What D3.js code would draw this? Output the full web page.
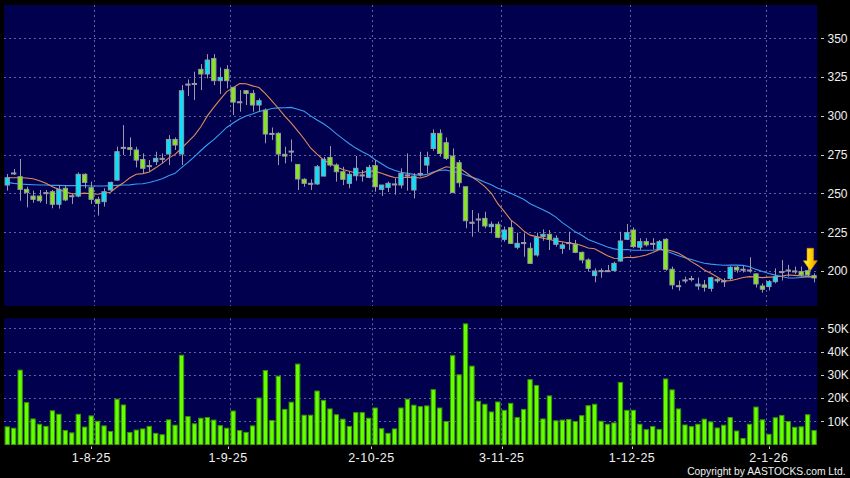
<!DOCTYPE html>
<html><head><meta charset="utf-8">
<script src="https://cdn.jsdelivr.net/npm/d3@7"></script>
<style>html,body{margin:0;padding:0;background:#000;overflow:hidden}svg{display:block}</style>
</head><body><div id="chart"></div>
<script>
// ---- data ----
const openP = [255.4,263.2,260.8,252.6,248.3,248.3,250.5,251.1,243.0,253.3,
248.5,248.3,262.3,253.7,246.2,244.7,252.2,258.6,279.7,279.5,
278.0,271.9,267.9,270.5,272.6,275.4,284.8,275.4,320.5,320.9,
330.0,327.0,337.0,322.7,330.0,318.4,309.1,316.2,314.5,307.0,
303.7,288.7,288.7,275.2,277.3,268.7,259.1,256.5,256.1,261.2,
273.2,268.3,264.0,256.5,261.4,261.9,260.4,267.9,252.6,253.9,
256.1,255.4,261.9,252.2,262.9,268.3,279.0,288.7,282.7,274.1,
269.8,254.3,231.4,233.5,233.9,228.6,230.1,220.4,227.9,215.3,
218.3,214.6,210.3,222.1,223.6,217.2,214.6,218.3,217.2,212.0,
207.1,197.0,200.2,200.2,200.2,206.4,220.4,226.4,215.3,218.9,
217.8,214.0,220.4,201.1,190.5,194.2,195.1,190.3,191.0,188.8,
194.6,193.6,195.1,202.4,201.1,200.6,198.1,190.3,189.9,193.1,
199.6,200.6,200.0,199.6,200.2,197.0];
const highP = [262.5,265.7,272.2,254.3,251.8,252.2,252.2,252.2,255.4,255.4,
250.1,263.5,263.0,257.6,247.9,253.3,257.6,280.1,294.1,286.1,
280.1,275.8,271.5,276.9,275.8,287.6,286.1,319.9,323.5,328.5,
333.4,339.8,339.8,331.2,332.7,318.4,316.6,316.6,316.6,311.3,
304.8,292.5,289.5,280.1,284.8,268.7,259.8,259.1,268.3,273.5,
280.5,269.4,267.2,264.0,274.1,265.1,268.3,271.5,255.4,257.6,
259.8,266.2,275.8,263.0,276.9,276.9,291.3,291.3,286.1,279.0,
271.5,254.3,239.3,237.2,238.2,231.9,231.9,228.6,232.4,224.7,
224.3,218.3,224.7,226.8,226.4,223.0,218.5,225.3,220.0,212.5,
208.2,201.7,201.7,203.9,206.0,225.3,230.3,228.1,221.1,221.1,
221.1,220.0,221.1,202.8,193.8,196.3,196.9,195.7,194.2,196.3,
195.3,195.3,203.0,203.2,203.2,208.8,198.5,192.0,194.2,201.7,
207.1,203.9,202.8,202.8,205.0,198.5];
const lowP = [251.8,261.9,245.3,241.0,244.0,244.0,243.2,240.4,240.2,245.0,
243.2,247.5,253.3,243.2,235.7,241.5,251.5,258.2,274.7,274.7,
266.8,262.5,264.0,268.3,269.4,268.3,278.0,268.3,312.8,310.2,
316.6,324.2,319.9,314.1,317.7,300.5,302.7,307.0,302.7,302.7,
282.3,284.5,268.3,269.4,270.5,252.2,254.3,252.2,255.5,261.0,
267.2,257.6,255.4,253.3,258.2,257.6,259.8,251.1,248.3,250.9,
249.2,253.3,251.8,246.8,260.8,262.9,277.5,273.7,271.5,250.5,
253.9,227.5,222.1,225.3,227.5,224.3,221.1,218.9,217.5,214.0,
209.2,204.5,209.2,219.5,213.5,215.7,211.0,213.5,211.5,204.9,
199.6,192.7,195.6,199.6,199.6,206.0,219.9,214.6,213.5,215.7,
213.9,213.5,200.2,188.2,187.3,192.0,193.2,187.8,186.7,186.7,
192.2,189.7,194.2,198.9,199.0,198.9,189.3,186.0,187.5,192.0,
193.8,196.3,198.1,196.3,196.3,192.7];
const closeP = [260.1,263.2,252.6,250.5,246.2,245.3,250.5,243.0,252.6,245.8,
248.5,262.3,257.1,246.2,243.6,251.1,257.1,276.9,279.7,278.4,
271.5,266.2,267.9,272.6,272.6,284.8,281.2,316.2,320.5,320.9,
327.0,336.0,322.7,324.8,322.7,308.9,309.1,314.5,307.0,309.8,
288.3,288.7,275.4,274.1,277.3,259.3,256.5,256.5,267.2,272.0,
268.3,264.0,259.1,262.3,266.2,261.9,266.8,254.3,255.4,256.5,
256.1,262.9,261.9,261.2,262.9,273.2,288.7,275.8,272.6,250.5,
256.9,232.4,231.4,233.5,229.0,230.1,221.7,226.4,217.8,217.8,
218.3,204.9,221.7,223.6,220.4,221.1,216.8,218.3,212.0,207.1,
201.7,200.0,200.2,200.2,204.9,219.3,224.7,215.7,218.9,216.8,
217.8,218.9,201.1,191.0,190.5,194.2,195.1,191.5,189.5,195.7,
193.6,193.6,202.4,200.6,201.1,200.6,191.6,188.2,193.1,196.3,
199.6,200.6,200.0,197.4,197.4,195.5];
const volumeK = [7.6,7,32,18,11,8.7,7.8,14.5,13,6,
5,13,7.5,12.3,10,8,5.6,19.5,17,5.2,
6.2,6.7,7.8,4.8,4.2,10.6,8.3,38.4,12,8.9,
11.3,11.6,10.5,8.1,7,14.4,6,5.2,8,20,
31.8,10.3,29.4,15.1,18.2,34.6,12.6,12.6,23,19,
15.3,12.8,10.9,7.8,13.7,13.7,11.3,15.7,6.8,4.8,
6.7,15.7,19.5,16.9,16.3,16.6,23.6,15.7,9.9,38.2,
30,51.9,33.7,18.6,17.3,14,18.3,14.7,17.7,11.6,
15.1,27.9,25.4,11,20.9,10.2,10.5,10.8,9.9,12.4,
16.7,17.3,10,8.7,9.3,26.7,14.7,14.7,8.7,6.4,
7.7,6.5,28.2,23.5,15.3,8.4,7.7,8.7,10.9,9.7,
7.1,8.3,11.6,5.8,2.6,8.7,16.1,10.6,4.4,11.5,
12.5,9.9,7.4,7.6,12.8,6];
const ma10Head = [260.1,260.1,260.1,259.9,259.5,258.2,256.5,254.3,252.6];
const ma20Head = [257.1,256.5,256.1,255.8,255.6,255.4,255.4,255.2,255.2,255.0,
255.0,255.0,255.0,254.8,254.8,254.8,255.0,255.2,255.4];
const tickIndex = [13,34,56,76,96,117];
const tickLabels = ["1-8-25","1-9-25","2-10-25","3-11-25","1-12-25","2-1-26"];
const priceTicks = [200,225,250,275,300,325,350];
const volTicks = [10,20,30,40,50];
const arrowIndex = 124;

// ---- layout ----
const W = 850, H = 478;
const L = 4, R = 817.3;
const pTop = 5, pBot = 306, vTop = 318.3, vBot = 444.5;
const n = closeP.length;
const idx = d3.range(n);

const x = d3.scaleBand().domain(idx).range([L, R]).paddingInner(0.18).paddingOuter(0.09);
const xLab = d3.scaleBand().domain(idx).range([3.35, 824.2]);
const y = d3.scaleLinear().domain([177.4, 371.5]).range([pBot, pTop]);
const yv = d3.scaleLinear().domain([0, 54.3]).range([vBot, vTop]);
const bw = x.bandwidth();
const cx = i => x(i) + bw / 2;

function sma(k, head) {
  return idx.map(i => i < k - 1 ? head[i] : d3.mean(closeP.slice(i - k + 1, i + 1)));
}
const ma10 = sma(10, ma10Head);
const ma20 = sma(20, ma20Head);

const svg = d3.select("#chart").append("svg").attr("width", W).attr("height", H)
  .style("background", "#000");

const defs = svg.append("defs");
const g1 = defs.append("linearGradient").attr("id", "arrowGrad").attr("x1", "0").attr("x2", "1").attr("y1", "0").attr("y2", "0");
g1.append("stop").attr("offset", "0%").attr("stop-color", "#fff24a");
g1.append("stop").attr("offset", "55%").attr("stop-color", "#ffd000");
g1.append("stop").attr("offset", "100%").attr("stop-color", "#e89000");
defs.append("clipPath").attr("id", "pclip").append("rect").attr("x", L).attr("y", pTop).attr("width", R - L).attr("height", pBot - pTop);

const panelFill = "#00004e";
svg.append("rect").attr("x", L).attr("y", pTop).attr("width", R - L).attr("height", pBot - pTop).attr("fill", panelFill);
svg.append("rect").attr("x", L).attr("y", vTop).attr("width", R - L).attr("height", vBot - vTop).attr("fill", panelFill);

const gridColor = "#62629a";
// horizontal grids
svg.append("g").selectAll("line").data(priceTicks).join("line")
  .attr("x1", L).attr("x2", R).attr("y1", d => Math.round(y(d)) + 0.5).attr("y2", d => Math.round(y(d)) + 0.5)
  .attr("stroke", gridColor).attr("stroke-dasharray", "2,3");
svg.append("g").selectAll("line").data(volTicks).join("line")
  .attr("x1", L).attr("x2", R).attr("y1", d => Math.round(yv(d)) + 0.5).attr("y2", d => Math.round(yv(d)) + 0.5)
  .attr("stroke", gridColor).attr("stroke-dasharray", "2,3");
// vertical grids
const gx = i => Math.round(L + (i + 1) * x.step()) + 0.5;
svg.append("g").selectAll("line").data(tickIndex).join("line")
  .attr("x1", gx).attr("x2", gx).attr("y1", pTop).attr("y2", pBot)
  .attr("stroke", gridColor).attr("stroke-dasharray", "2,3");
svg.append("g").selectAll("line").data(tickIndex).join("line")
  .attr("x1", gx).attr("x2", gx).attr("y1", vTop).attr("y2", vBot)
  .attr("stroke", gridColor).attr("stroke-dasharray", "2,3");

// moving averages
const line = arr => d3.line().x(i => cx(i)).y(i => y(arr[i]))(idx);
const plot = svg.append("g").attr("clip-path", "url(#pclip)");
plot.append("path").attr("d", line(ma20)).attr("fill", "none").attr("stroke", "#3a9cf0").attr("stroke-width", 1.1);
plot.append("path").attr("d", line(ma10)).attr("fill", "none").attr("stroke", "#e08a5a").attr("stroke-width", 1.1);

// candles
const wickColor = "#9a9aa6";
const cg = plot.append("g");
cg.selectAll("line").data(idx).join("line")
  .attr("x1", i => Math.round(cx(i)) + 0.5).attr("x2", i => Math.round(cx(i)) + 0.5)
  .attr("y1", i => y(highP[i])).attr("y2", i => y(lowP[i]))
  .attr("stroke", wickColor).attr("stroke-width", 1);
cg.selectAll("rect").data(idx).join("rect")
  .attr("x", i => x(i) + 0.5).attr("width", bw - 1)
  .attr("y", i => y(Math.max(openP[i], closeP[i])))
  .attr("height", i => Math.max(1, Math.abs(y(openP[i]) - y(closeP[i]))))
  .attr("fill", i => closeP[i] > openP[i] ? "#00e4ff" : closeP[i] < openP[i] ? "#84e81c" : "#9a9aa6")
  .attr("stroke", wickColor).attr("stroke-width", 1);

// arrow marker
const ax = cx(arrowIndex) + 2.7, tipY = y(openP[arrowIndex]);
const arrowPath = d3.path();
arrowPath.moveTo(ax - 3.3, tipY - 22.4);
arrowPath.lineTo(ax + 3.3, tipY - 22.4);
arrowPath.lineTo(ax + 3.3, tipY - 10);
arrowPath.lineTo(ax + 7, tipY - 10);
arrowPath.lineTo(ax, tipY);
arrowPath.lineTo(ax - 7, tipY - 10);
arrowPath.lineTo(ax - 3.3, tipY - 10);
arrowPath.closePath();
svg.append("path").attr("d", arrowPath.toString()).attr("fill", "url(#arrowGrad)").attr("stroke", "#d88a00").attr("stroke-width", 0.6);

// volume
svg.append("g").selectAll("rect").data(idx).join("rect")
  .attr("x", i => x(i) + 0.5).attr("width", bw - 1)
  .attr("y", i => yv(volumeK[i])).attr("height", i => vBot - yv(volumeK[i]))
  .attr("fill", "#66ff00").attr("stroke", "#3a9a00").attr("stroke-width", 1);

// right axis
const fontAxis = "'Liberation Sans', Arial, sans-serif";
const ra = svg.append("g").attr("font-family", fontAxis).attr("font-size", 12).attr("fill", "#f0f0f0");
ra.selectAll("line.p").data(priceTicks).join("line").attr("class", "p")
  .attr("x1", 821).attr("x2", 824).attr("y1", d => Math.round(y(d)) + 0.5).attr("y2", d => Math.round(y(d)) + 0.5).attr("stroke", "#ccc");
ra.selectAll("text.p").data(priceTicks).join("text").attr("class", "p")
  .attr("x", 827.5).attr("y", d => y(d)).attr("dy", "0.36em").text(d => d);
ra.selectAll("line.v").data(volTicks).join("line").attr("class", "v")
  .attr("x1", 821).attr("x2", 824).attr("y1", d => Math.round(yv(d)) + 0.5).attr("y2", d => Math.round(yv(d)) + 0.5).attr("stroke", "#ccc");
ra.selectAll("text.v").data(volTicks).join("text").attr("class", "v")
  .attr("x", 827.5).attr("y", d => yv(d)).attr("dy", "0.36em").text(d => d + "K");

// bottom axis
const lx = i => xLab(i) + xLab.bandwidth() / 2;
const ba = svg.append("g").attr("font-family", fontAxis).attr("font-size", 12.5).attr("fill", "#f0f0f0");
ba.selectAll("line").data(tickIndex).join("line")
  .attr("x1", i => Math.round(lx(i)) + 0.5).attr("x2", i => Math.round(lx(i)) + 0.5)
  .attr("y1", 446.5).attr("y2", 449).attr("stroke", "#ccc");
ba.selectAll("text").data(tickIndex).join("text")
  .attr("x", lx).attr("y", 462).attr("text-anchor", "middle").attr("letter-spacing", "0.5px")
  .text((d, k) => tickLabels[k]);

svg.append("text").attr("x", 845.5).attr("y", 474.5).attr("text-anchor", "end")
  .attr("font-family", fontAxis).attr("font-size", 10.3).attr("fill", "#f0f0f0")
  .text("Copyright by AASTOCKS.com Ltd.");
</script>
</body></html>
